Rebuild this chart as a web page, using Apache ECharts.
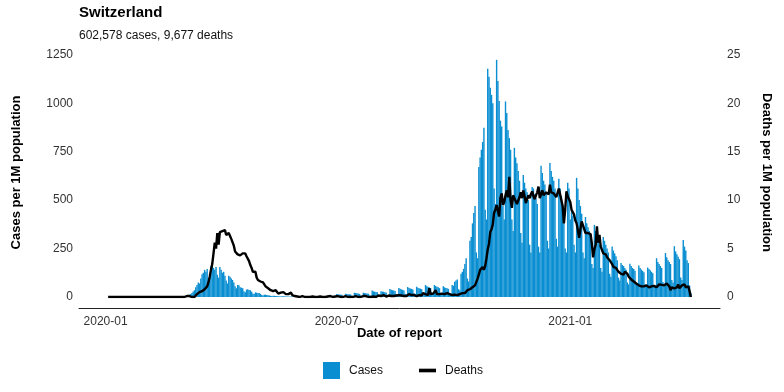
<!DOCTYPE html>
<html><head><meta charset="utf-8">
<script src="https://cdn.jsdelivr.net/npm/echarts@6/dist/echarts.min.js"></script>
<style>html,body{margin:0;padding:0;background:#fff}#c{width:784px;height:392px}</style>
</head><body><div id="c"></div>
<script>
// first reported day of the series (2020-01-03), one value per day
const START_DATE = [2020, 0, 3];

// daily cases per 1M population
const cases = [
0,0,0,0,0,
0,0,0,0,0,0,0, 0,0,0,0,0,0,0, 0,0,0,0,0,0,0, 0,0,0,0,0,0,0, 0,0,0,0,0,0,0, 0,0,0,0,0,0,0, 0,0,0,0,0,0,0,
0.3,0.5,1,1,1,2,3,
5,6,9,12,15,20,28,
35,50,62,75,70,95,118,
125,140,130,145,95,105,160,
175,150,140,155,115,100,155,
140,125,130,110,85,70,110,
105,95,88,75,55,45,62,
60,50,48,45,30,25,38,
40,36,35,28,18,15,24,
22,20,20,16,10,8,12,
12,10,9,8,6,5,7,
6,5,5,4,3,3,4,
4,3,3,3,2,2,3,
3,3,2,2,1,2,2,
4,3.5,3,3,3,1.5,1.2,
3,3,2.8,2.5,2.2,1,1,
4,3.5,3.4,3.2,3,1.5,1.2,
8,7,6.5,6.2,6,3,2.5,
15,13,12.5,12,11,5,4.5,
17,15,14.5,14,13,6,5,
22,20,19,18,16,8,7,
22,20,19,18,17,8,7,
33,29,27,26,24,12,10,
30,28,27,25,23,11,9,
41,37,35,33,31,15,12,
46,42,39,37,34,17,14,
52,47,44,42,39,19,16,
53,48,45,43,40,19,16,
62,56,53,50,46,22,19,
62,56,53,50,46,22,19,
55,50,47,45,42,20,17,
62,58,79,85,90,40,35,
120,130,145,170,200,95,80,
290,310,380,433,470,230,200,
671,720,760,800,873,450,400,
1178,1136,1080,1043,1000,560,480,
1224,1115,1012,910,880,470,400,
1009,950,862,820,760,400,340,
770,720,690,650,600,330,280,
630,590,560,540,500,270,230,
568,560,530,510,480,260,230,
677,640,600,580,540,290,250,
692,650,620,600,560,300,260,
610,560,520,450,380,250,230,
590,560,400,450,420,270,230,
615,560,500,470,430,230,200,
413,380,360,340,310,170,150,
372,340,315,295,270,150,130,
310,290,270,250,230,120,105,
260,240,225,210,190,100,85,
175,165,160,150,140,75,65,
172,160,150,145,135,70,60,
162,150,142,135,128,65,55,
152,145,138,130,122,62,54,
200,180,170,160,150,78,68,
227,205,190,180,170,88,75,
262,235,220,208,195,100,88,
294,260,240,190,175,60,20
];

// daily deaths per 1M population
const deaths = [
0,0,0,0,0,0,0,0,0,0,0,0,0,0,0,0,0,0,0,0,
0,0,0,0,0,0,0,0,0,0,0,0,0,0,0,0,0,0,0,0,
0,0,0,0,0,0,0,0,0,0,0,0,0,0,0,0,0,0,0,0,
0,0,0.1,0.3,0.1,0,0,0,0,0.1,
0.3,0.4,0.5,0.6,0.6,0.7,0.8,1.0,1.1,1.5,
2.1,2.8,3.4,3.6,5.6,5.0,6.6,5.4,6.7,6.5,
6.8,7.0,6.9,6.4,6.2,6.6,6.3,6.0,5.9,5.3,
4.7,4.5,4.4,4.6,4.3,4.2,4.5,4.4,4.5,4.2,
4.0,3.7,3.3,3.0,2.6,2.4,2.6,2.0,1.75,1.7,
1.6,1.6,1.5,1.3,1.1,1.0,0.9,0.8,0.7,0.55,
0.6,0.7,0.7,0.5,0.35,0.4,0.45,0.5,0.5,0.3,
0.3,0.25,0.3,0.4,0.45,0.2,0.15,0.1,0.1,0.05,
0.1,0,0.05,0.1,0,0,0.05,0,0.1,0,
0,0.05,0,0,0.1,0,0,0.05,0,0,
0.1,0,0,0.05,0,0.1,0,0,0,0.05,
0,0.1,0,0,0.05,0,0,0.1,0,0,
0.05,0,0.1,0,0,0.1,0.05,0,0.1,0,
0.05,0.1,0,0.1,0.05,0,0.15,0,0.1,0.05,
0.1,0,0.1,0.15,0.05,0.1,0,0.2,0.1,0.05,
0.1,0.15,0,0.1,0.2,0.1,0.05,0.15,0.1,0.2,
0.1,0.15,0.25,0.1,0.2,0.1,0.15,0.3,0.1,0.2,
0.15,0.2,0.3,0.1,0.25,0.2,0.3,0.15,0.4,0.2,
0.3,0.25,0.2,0.9,0.3,0.2,0.35,0.25,0.7,0.3,
0.2,0.3,0.25,0.35,0.2,0.3,0.25,0.4,0.2,0.3,
0.25,0.2,0.3,0.25,0.2,0.2,0.2,0.3,0.3,0.4,
0.5,0.4,0.6,0.7,0.8,0.8,0.9,1.0,1.1,1.2,
1.4,1.9,2.3,2.8,3.0,3.1,2.8,3.2,4.0,4.9,
5.5,6.7,7.0,7.5,8.7,9.0,9.5,9.7,8.3,10.2,
10.7,9.5,9.8,10.5,11.0,10.3,12.4,10.0,9.2,10.5,
10.2,10.0,9.6,9.8,10.3,10.8,10.2,11.0,10.4,9.7,
10.1,10.5,10.2,10.6,10.9,10.4,10.1,10.5,10.8,11.4,
10.2,10.6,11.0,10.5,10.4,10.8,10.9,10.6,11.6,10.8,
11.0,10.7,10.9,10.3,10.5,11.2,10.6,10.0,9.4,7.6,
9.0,10.9,10.4,10.6,9.8,9.0,9.2,8.5,7.9,7.6,
6.9,6.1,7.0,7.8,7.6,7.0,6.6,6.4,6.6,6.8,
6.5,5.5,4.1,4.9,5.4,7.3,5.6,6.4,5.2,5.0,
4.5,4.6,4.4,4.1,4.0,3.8,3.7,3.4,3.1,3.1,
3.0,2.8,2.6,2.5,2.4,2.5,2.3,2.6,2.8,2.4,
2.1,2.0,1.8,1.7,1.6,1.5,1.4,1.3,1.2,1.1,
1.1,1.0,1.1,1.1,1.2,1.1,1.0,1.1,1.1,1.2,
1.15,1.1,1.0,1.2,1.3,1.2,1.25,1.4,1.2,1.3,
1.4,1.6,1.1,0.7,1.0,0.9,0.9,1.1,1.0,1.3,
0.9,0.9,1.2,1.4,1.3,1.0,1.2,1.1,0.6,0
];

const xTickLabels = ['2020-01', '2020-07', '2021-01'];

const FONT = '"Liberation Sans", Arial, Helvetica, sans-serif';

function dayTs(i) { return new Date(START_DATE[0], START_DATE[1], START_DATE[2] + i).getTime(); }
const caseData = cases.map((v, i) => [dayTs(i), v]);
const deathData = deaths.map((v, i) => [dayTs(i), v]);
const xTickValues = xTickLabels.map(s => { const p = s.split('-'); return new Date(+p[0], +p[1] - 1, 1).getTime(); });
function fmtMonth(v) { const d = new Date(v); return d.getFullYear() + '-' + String(d.getMonth() + 1).padStart(2, '0'); }

// ggplot-like 5% expansion of the data range
const span = dayTs(cases.length - 1) - dayTs(0);
const xMin = dayTs(0) - span * 0.05, xMax = dayTs(cases.length - 1) + span * 0.05;
const caseMax = 1285, deathMax = caseMax / 50;

const chart = echarts.init(document.getElementById('c'), null, {renderer: 'canvas'});
chart.setOption({
  animation: false,
  textStyle: {fontFamily: FONT},
  title: {
    left: 79, top: 5, itemGap: 10, padding: 0,
    text: 'Switzerland',
    subtext: '602,578 cases, 9,677 deaths',
    textStyle: {fontFamily: FONT, fontSize: 15, fontWeight: 'bold', color: '#000'},
    subtextStyle: {fontFamily: FONT, fontSize: 12, color: '#111'}
  },
  legend: {
    left: 323, top: 362, padding: 0, itemWidth: 17, itemHeight: 17, itemGap: 36,
    textStyle: {fontFamily: FONT, fontSize: 12, color: '#111', padding: [0, 0, 0, 4]},
    data: [{name: 'Cases', icon: 'rect'}, {name: 'Deaths', icon: 'path://M0,0H14V3H0Z'}]
  },
  grid: {left: 79, right: 64, top: 48, bottom: 95},
  xAxis: {
    type: 'value', min: xMin, max: xMax, offset: 11, scale: true,
    axisLine: {onZero: false, lineStyle: {color: '#222', width: 1}},
    axisTick: {show: false},
    splitLine: {show: false},
    axisLabel: {
      customValues: xTickValues, fontFamily: FONT, fontSize: 12, color: '#333', margin: 8,
      showMinLabel: true, showMaxLabel: true, formatter: fmtMonth
    },
    name: 'Date of report', nameLocation: 'middle', nameGap: 19, nameMoveOverlap: false,
    nameTextStyle: {fontFamily: FONT, fontSize: 13, fontWeight: 'bold', color: '#000'}
  },
  yAxis: [{
    type: 'value', min: 0, max: caseMax, interval: 250,
    axisLine: {show: false}, axisTick: {show: false}, splitLine: {show: false},
    axisLabel: {fontFamily: FONT, fontSize: 12, color: '#333', margin: 6, showMaxLabel: false, formatter: v => String(v)},
    name: 'Cases per 1M population', nameLocation: 'middle', nameGap: 56, nameRotate: 90,
    nameTextStyle: {fontFamily: FONT, fontSize: 13, fontWeight: 'bold', color: '#000'}
  }, {
    type: 'value', min: 0, max: deathMax, interval: 5, position: 'right',
    axisLine: {show: false}, axisTick: {show: false}, splitLine: {show: false},
    axisLabel: {fontFamily: FONT, fontSize: 12, color: '#333', margin: 7, showMaxLabel: false, formatter: v => String(v)},
    name: 'Deaths per 1M population', nameLocation: 'middle', nameGap: 40, nameRotate: -90,
    nameTextStyle: {fontFamily: FONT, fontSize: 13, fontWeight: 'bold', color: '#000'}
  }],
  series: [{
    name: 'Cases', type: 'bar', data: caseData, yAxisIndex: 0,
    barWidth: 1.4, itemStyle: {color: '#0a8ed2'}, large: false
  }, {
    name: 'Deaths', type: 'line', data: deathData, yAxisIndex: 1,
    showSymbol: false, symbol: 'none', color: '#000',
    lineStyle: {color: '#000', width: 2.4}, itemStyle: {color: '#000'}
  }]
});
</script>
</body></html>
